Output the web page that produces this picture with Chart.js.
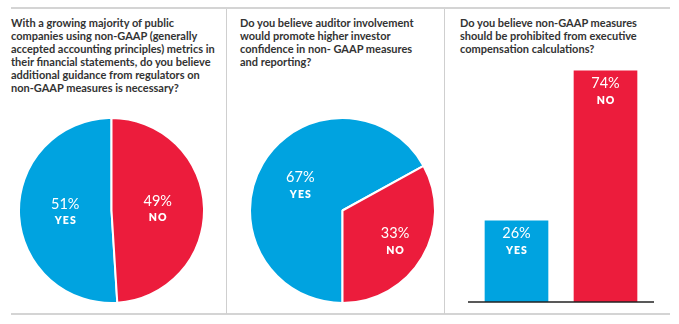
<!DOCTYPE html>
<html>
<head>
<meta charset="utf-8">
<script src="https://cdn.jsdelivr.net/npm/chart.js@4"></script>
<style>
  html, body { margin: 0; padding: 0; background: #fff; }
  #wrap { position: relative; width: 679px; height: 324px; overflow: hidden; background: #fff; }
  .hline { position: absolute; left: 11px; width: 659px; height: 2px; background: #d4d4d4; }
  .vline { position: absolute; top: 9px; width: 1px; height: 305px; background: #cfcfcf; }
  .title { position: absolute; top: 17px; font-family: Lato, "Open Sans", sans-serif; font-weight: 700;
           font-size: 11px; line-height: 12.9px; color: #333; white-space: nowrap; }
  canvas { position: absolute; }
</style>
</head>
<body>
<div id="wrap">
  <div class="hline" style="top:7px"></div>
  <div class="hline" style="top:313px"></div>
  <div class="vline" style="left:226px"></div>
  <div class="vline" style="left:444px"></div>
  <div class="title" id="t1" style="left:11px"></div>
  <div class="title" id="t2" style="left:240px"></div>
  <div class="title" id="t3" style="left:460px"></div>
  <canvas id="c1" width="187" height="187" style="left:18px;top:117px;width:187px;height:187px"></canvas>
  <canvas id="c2" width="187" height="187" style="left:249px;top:117px;width:187px;height:187px"></canvas>
  <canvas id="c3" width="194" height="252" style="left:464px;top:52px;width:194px;height:252px"></canvas>
</div>
<script>
// ---- data ----
const categories = ['YES', 'NO'];
const q1Values = [51, 49];
const q2Values = [67, 33];
const q3Values = [26, 74];
const q1Title = ['With a growing majority of public', 'companies using non-GAAP (generally', 'accepted accounting principles) metrics in', 'their financial statements, do you believe', 'additional guidance from regulators on', 'non-GAAP measures is necessary?'];
const q2Title = ['Do you believe auditor involvement', 'would promote higher investor', 'confidence in non- GAAP measures', 'and reporting?'];
const q3Title = ['Do you believe non-GAAP measures', 'should be prohibited from executive', 'compensation calculations?'];

const BLUE = '#00a3e0';
const RED = '#ec1c3c';
const FONT = 'Lato, "Open Sans", sans-serif';

function setTitle(id, lines) {
  const el = document.getElementById(id);
  lines.forEach((l, i) => {
    if (i) el.appendChild(document.createElement('br'));
    el.appendChild(document.createTextNode(l));
  });
}
setTitle('t1', q1Title);
setTitle('t2', q2Title);
setTitle('t3', q3Title);

function drawLabel(ctx, x, y, pct, name) {
  ctx.save();
  ctx.fillStyle = '#fff';
  ctx.textAlign = 'center';
  ctx.textBaseline = 'middle';
  ctx.font = '400 14.5px ' + FONT;
  ctx.fillText(pct + '%', x, y - 8);
  ctx.font = '800 10.5px ' + FONT;
  try { ctx.letterSpacing = '1px'; } catch (e) {}
  ctx.fillText(name, x + 0.5, y + 9);
  ctx.restore();
}

const pieLabels = {
  id: 'pieLabels',
  afterDatasetsDraw(chart, args, opts) {
    const meta = chart.getDatasetMeta(0);
    const ctx = chart.ctx;
    const ds = chart.data.datasets[0];
    meta.data.forEach((arc, i) => {
      const p = arc.getProps(['x', 'y', 'startAngle', 'endAngle', 'outerRadius']);
      const mid = (p.startAngle + p.endAngle) / 2;
      const f = (opts.factors && opts.factors[i]) || 0.5;
      const r = p.outerRadius * f;
      drawLabel(ctx, p.x + Math.cos(mid) * r, p.y + Math.sin(mid) * r, ds.data[i], chart.data.labels[i]);
    });
  }
};

function makePie(id, values, rotation, factors) {
  new Chart(document.getElementById(id), {
    type: 'pie',
    data: {
      labels: categories,
      datasets: [{ data: values, backgroundColor: [BLUE, RED], borderColor: '#fff', borderWidth: 2 }]
    },
    options: {
      responsive: false,
      animation: false,
      rotation: rotation,
      plugins: { legend: { display: false }, tooltip: { enabled: false }, pieLabels: { factors: factors } }
    },
    plugins: [pieLabels]
  });
}
makePie('c1', q1Values, 360 - 360 * q1Values[0] / 100, [0.5, 0.5]);
makePie('c2', q2Values, 180, [0.53, 0.66]);

const barExtras = {
  id: 'barExtras',
  afterDatasetsDraw(chart) {
    const ctx = chart.ctx;
    const ca = chart.chartArea;
    const y0 = chart.scales.y.getPixelForValue(0);
    ctx.save();
    ctx.strokeStyle = '#222';
    ctx.lineWidth = 1.5;
    ctx.beginPath();
    ctx.moveTo(ca.left - 4, y0);
    ctx.lineTo(ca.right + 4, y0);
    ctx.stroke();
    ctx.restore();
    const meta = chart.getDatasetMeta(0);
    meta.data.forEach((bar, i) => {
      drawLabel(ctx, bar.x, bar.y + 21, chart.data.datasets[0].data[i], chart.data.labels[i]);
    });
  }
};

new Chart(document.getElementById('c3'), {
  type: 'bar',
  data: {
    labels: categories,
    datasets: [{ data: q3Values, backgroundColor: [BLUE, RED], borderWidth: 0, barThickness: 63 }]
  },
  options: {
    responsive: false,
    animation: false,
    layout: { padding: { left: 8, right: 8, top: 0, bottom: 2 } },
    scales: {
      x: { display: false },
      y: { display: false, min: 0, max: 80 }
    },
    plugins: { legend: { display: false }, tooltip: { enabled: false } }
  },
  plugins: [barExtras]
});
</script>
</body>
</html>
